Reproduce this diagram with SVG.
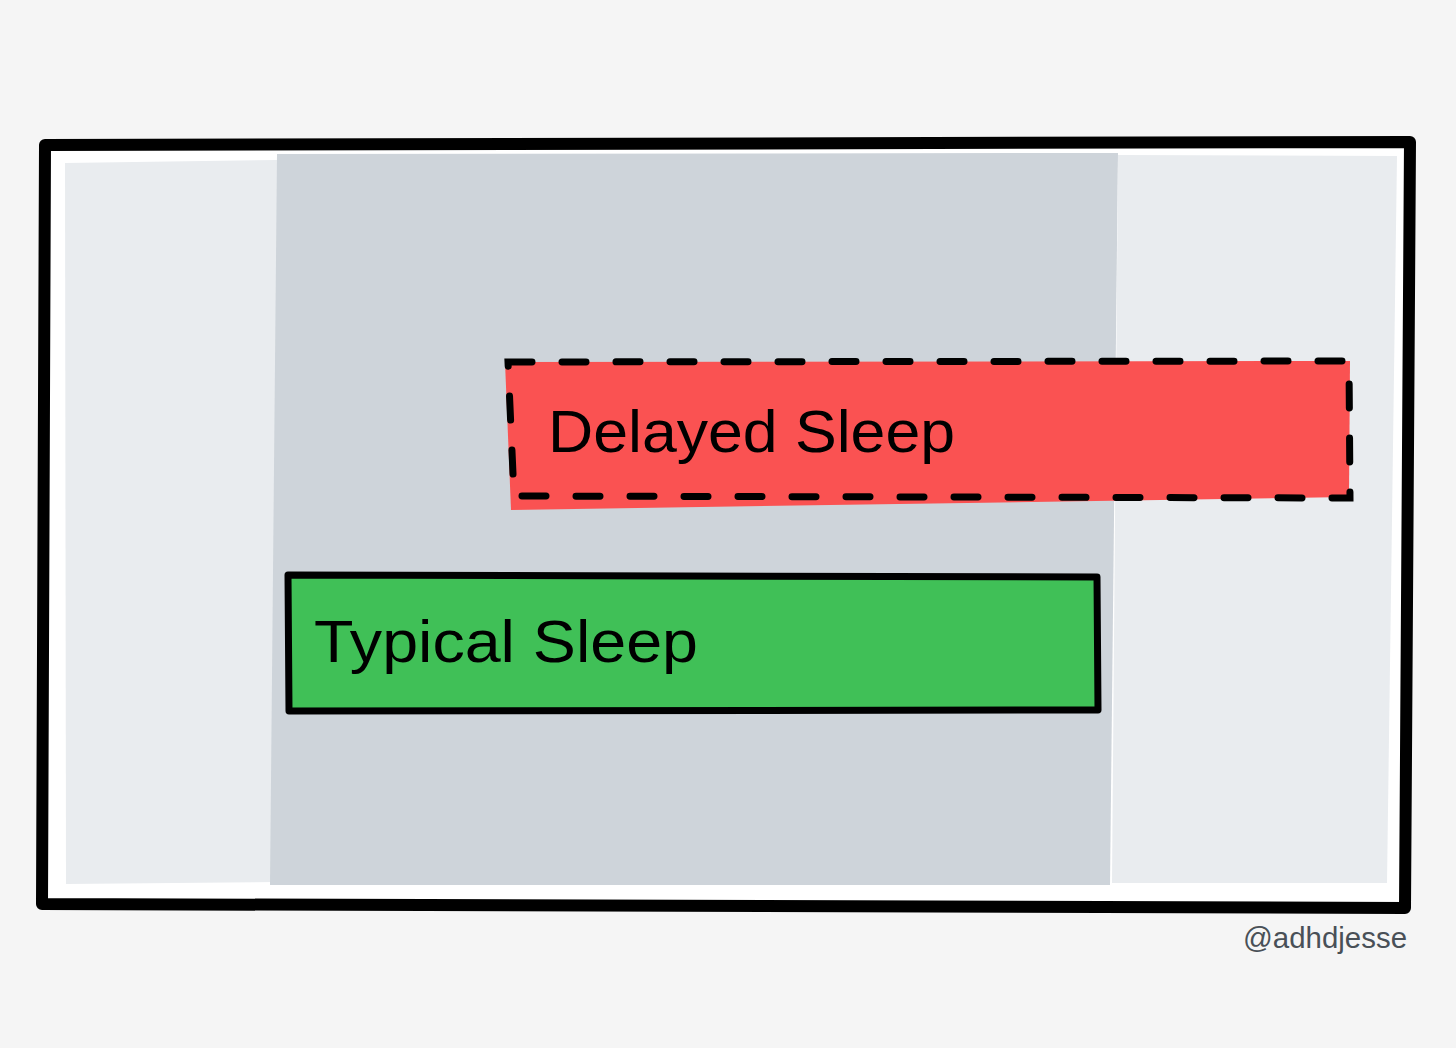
<svg xmlns="http://www.w3.org/2000/svg" width="1456" height="1048" viewBox="0 0 1456 1048">
<style>
.lbl{font-family:"Liberation Sans","DejaVu Sans",sans-serif;fill:#000;font-size:60px}
.frame{fill:#ffffff;stroke:#000;stroke-width:12;stroke-linejoin:round;stroke-linecap:round}
.wm{font-family:"Liberation Sans","DejaVu Sans",sans-serif;fill:#495057;font-size:30px}
</style>
<rect x="0" y="0" width="1456" height="1048" fill="#f5f5f5"/>
<g id="frame">
<path class="frame" d="M45,145 L1410,142 L1405,908 L42,904 Z"/>
</g>
<g id="panel-left"><path d="M65,163 L277,160 L277,882 L66,884 Z" fill="#e9ecef"/></g>
<g id="panel-middle"><path d="M277,154 L1118,153 L1110,885 L270,885 Z" fill="#ced4da"/></g>
<g id="panel-right"><path d="M1118,155 L1397,156 L1387,883 L1112,883 Z" fill="#e9ecef"/></g>
<g id="delayed-sleep">
<path d="M505,362 L1350,361 L1349,497 L511,510 Z" fill="#fa5252"/>
<path d="M508,362 L1349,361 L1350,498 L514,496 Z" fill="none" stroke="#000" stroke-width="7" stroke-dasharray="24 30" stroke-linecap="round"/>
<text class="lbl" x="548" y="452" textLength="407" lengthAdjust="spacingAndGlyphs">Delayed Sleep</text>
</g>
<g id="typical-sleep">
<path d="M288,575 L1097,577 L1098,710 L289,711 Z" fill="#40c057" stroke="#000" stroke-width="7" stroke-linejoin="round"/>
<text class="lbl" x="314" y="662" textLength="384" lengthAdjust="spacingAndGlyphs">Typical Sleep</text>
</g>
<g id="connectors"></g>
<g id="watermark">
<text class="wm" x="1243" y="948" textLength="164" lengthAdjust="spacingAndGlyphs">@adhdjesse</text>
</g>
</svg>
